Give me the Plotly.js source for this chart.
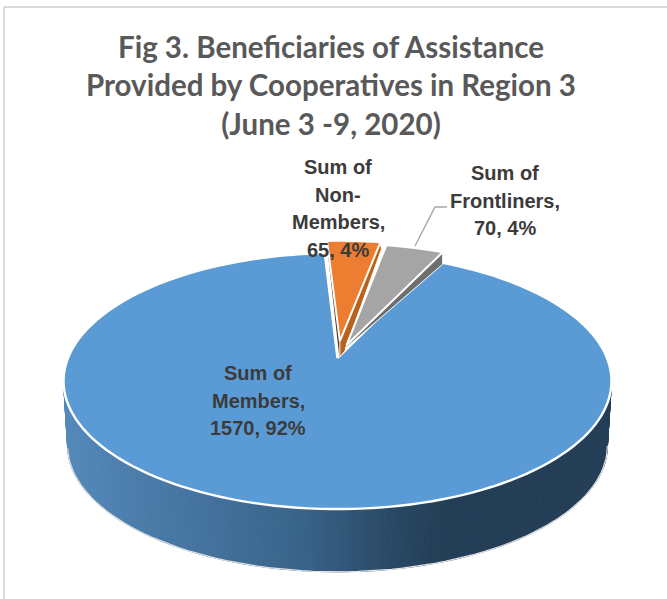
<!DOCTYPE html>
<html><head><meta charset="utf-8">
<script src="https://cdn.plot.ly/plotly-3.0.1.min.js"></script>
<style>html,body{margin:0;padding:0;background:#fff}#c{width:667px;height:599px}</style>
</head><body><div id="c"></div>
<script>
// ---- data ----
var categories = ["Members", "Non-Members", "Frontliners"];
var labelLines = [["Sum of","Members,"],["Sum of","Non-","Members,"],["Sum of","Frontliners,"]];
var values = [1570, 65, 70];
var titleLines = ["Fig 3. Beneficiaries of Assistance","Provided by Cooperatives in Region 3","(June 3 -9, 2020)"];
var explode = [0, 0.14, 0.11];

// ---- projection of the tilted disc onto the page ----
var firstAngle = 25.3, cx = 337.5, cy = 358, k = 0.18, A = 269.5, B = 123.9, depth = 65, shrink = 0.985;
function proj(u, v, bottom){
  var s = bottom ? shrink : 1, w = 1 + k*v;
  return [cx + s*A*u/w, cy + (bottom ? depth : 0) - s*B*v/w];
}
function rim(deg, e, mid, bottom){
  var a = deg*Math.PI/180, m = mid*Math.PI/180;
  return proj(Math.sin(a)+e*Math.sin(m), Math.cos(a)+e*Math.cos(m), bottom);
}
var total = values.reduce(function(a,b){return a+b;},0);
var sweep = values.map(function(v){return v/total*360;});
var start = [firstAngle];
start[1] = firstAngle + sweep[0];
start[2] = start[1] + sweep[1];

function poly(pts, fill, lineColor, lineWidth){
  return {type:"scatter", mode:"lines", x:pts.map(function(p){return p[0];}), y:pts.map(function(p){return p[1];}),
    fill:"toself", fillcolor:fill, line:{color:lineColor||fill, width:lineWidth===undefined?1:lineWidth, simplify:false}, hoverinfo:"skip"};
}
function hex(c){return c.map(function(v){return Math.round(v);});}
var stops = [[63,[84,137,186]],[180,[70,118,162]],[300,[57,100,138]],[390,[42,73,102]],[445,[35,62,86]],[611,[35,62,86]]];
function wallColor(x){
  for(var i=0;i<stops.length-1;i++){ if(x<=stops[i+1][0]){
    var t=Math.max(0,(x-stops[i][0])/(stops[i+1][0]-stops[i][0]));
    var c=hex(stops[i][1].map(function(v,j){return v+t*(stops[i+1][1][j]-v);}));
    return "rgb("+c.join(",")+")"; } }
  return "rgb(35,62,86)";
}
var traces = [];
var edge = Math.acos(-k)*180/Math.PI, step = 1;
for(var d=edge; d<360-edge-0.001; d+=step){
  var d2=Math.min(d+step,360-edge);
  var p1=rim(d,0,0,false),p2=rim(d2,0,0,false),p3=rim(d2,0,0,true),p4=rim(d,0,0,true);
  traces.push(poly([p1,p2,p3,p4,p1], wallColor((p1[0]+p2[0])/2)));
}
var lo=[]; for(var d=edge; d<=360-edge+0.01; d+=2) lo.push(rim(d,0,0,true));
traces.push({type:"scatter",mode:"lines",x:lo.map(function(p){return p[0];}),y:lo.map(function(p){return p[1];}),line:{color:"#e2e2e2",width:1.2},hoverinfo:"skip"});

function wedge(i){
  var mid=start[i]+sweep[i]/2, e=explode[i];
  var pts=[proj(e*Math.sin(mid*Math.PI/180), e*Math.cos(mid*Math.PI/180), false)];
  var n=Math.max(6,Math.ceil(sweep[i]/2));
  for(var j=0;j<=n;j++) pts.push(rim(start[i]+sweep[i]*j/n,e,mid,false));
  pts.push(pts[0]);
  return pts;
}
var wB=wedge(0), wO=wedge(1), wG=wedge(2);
traces.push(poly(wB,"#5b9bd5","#ffffff",2.4));
var oA=wO[0], oL=wO[1], oR=wO[wO.length-2];
traces.push(poly([oL,[oA[0],oA[1]+16],oA,oL],"#5e3416"));
traces.push(poly([oR,[oR[0]+1,oR[1]+7],[oA[0]+5,oA[1]+10],[oA[0],oA[1]+16],oA,oR],"#b8621d","#ffffff",1));
var gA=wG[0], gR=wG[wG.length-2];
traces.push(poly([gR,[gR[0],gR[1]+12],[gA[0]-1,gA[1]+3],gA,gR],"#6f6f6f","#ffffff",1));
traces.push(poly(wO,"#ed7d31","#ffffff",2));
traces.push(poly(wG,"#a5a5a5","#ffffff",2));
var leaderX=[415,435,447], leaderY=[246,207,207];
traces.push({type:"scatter",mode:"lines",x:leaderX,y:leaderY,line:{color:"#a6a6a6",width:1.4},hoverinfo:"skip"});

var labelCenter=[[258,373],[338,167],[505,173]], lineGap=27.6;
var annotations=[];
values.forEach(function(v,i){
  var pct=Math.round(v/total*100);
  labelLines[i].concat([v+", "+pct+"%"]).forEach(function(t,j){
    annotations.push({xref:"x",yref:"y",x:labelCenter[i][0],y:labelCenter[i][1]+j*lineGap,text:t,showarrow:false,xanchor:"center",yanchor:"middle",align:"center",
      font:{family:"'Liberation Sans',sans-serif",size:20,color:"#3b3b3b",weight:700}});
  });
});
var shapes=[
  {type:"line",xref:"x",yref:"y",x0:4,x1:4,y0:7,y1:599,line:{color:"#d9d9d9",width:2}},
  {type:"line",xref:"x",yref:"y",x0:4,x1:667,y0:7,y1:7,line:{color:"#d9d9d9",width:2}}
];
var layout={width:667,height:599,margin:{l:0,r:0,t:0,b:0},showlegend:false,paper_bgcolor:"#fff",plot_bgcolor:"#fff",
  xaxis:{range:[0,667],visible:false,fixedrange:true},
  yaxis:{range:[599,0],visible:false,fixedrange:true},
  title:{text:titleLines.join("<br>"),x:331/667,xanchor:"center",xref:"paper",y:1-31/599,yanchor:"top",yref:"paper",
    pad:{t:27},font:{family:"Lato,sans-serif",size:29.5,color:"#595959",weight:700}},
  annotations:annotations,shapes:shapes};
Plotly.newPlot("c",traces,layout,{displayModeBar:false,staticPlot:true});
</script></body></html>
